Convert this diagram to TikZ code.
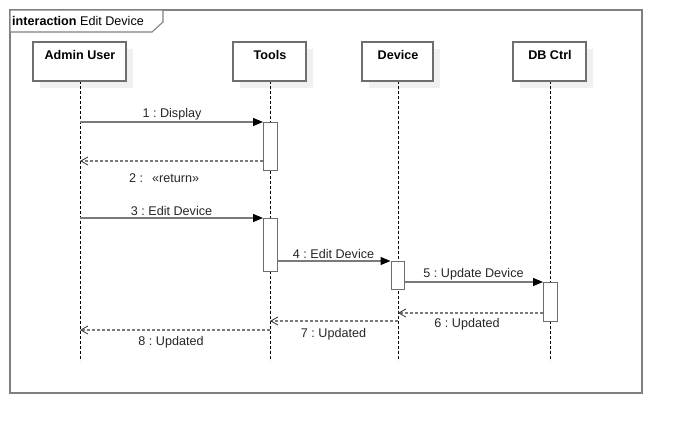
\documentclass[tikz,border=0pt]{standalone}
\usepackage{fontspec}
\setmainfont{Liberation Sans}
\usetikzlibrary{arrows.meta}
\definecolor{boxc}{HTML}{6E6E6E}
\definecolor{msgc}{HTML}{7A7A7A}
\definecolor{framec}{HTML}{808080}
\definecolor{shadowc}{HTML}{F0F0F0}
\frenchspacing
\begin{document}
\frenchspacing
\begin{tikzpicture}[x=1pt,y=-1pt,
  every node/.style={font=\fontsize{12.6}{15}\selectfont, inner sep=0pt},
  head/.style={draw=boxc, line width=1.4pt, fill=white, minimum height=39pt},
  headshadow/.style={fill=shadowc, minimum height=39pt},
  headtext/.style={font=\fontsize{12.6}{15}\selectfont\bfseries},
  act/.style={draw=boxc, line width=1.3pt, fill=white, minimum width=13.5pt, anchor=north west},
  life/.style={black, line width=0.8pt, dash pattern=on 3pt off 2pt},
  msg/.style={msgc, line width=1.3pt, -{Triangle[length=10pt,width=8pt,fill=black,color=black]}},
  ret/.style={msgc, line width=1.2pt, dash pattern=on 3pt off 2pt, -{Straight Barb[length=7pt,width=8pt,line width=0.9pt,color=black!75]}},
  lbl/.style={text=black!85}
]
\useasboundingbox (0,0) rectangle (682,434);
% frame
\draw[framec, line width=1.1pt] (10,10) rectangle (642,393);
\draw[framec, line width=1.1pt, fill=white] (10,10) -- (163,10) -- (163,22) -- (152,32) -- (10,32) -- cycle;
\node[anchor=west] (ftitle) at (12,20.5) {\textbf{interaction} Edit Device};
% head shadows
\node[headshadow, minimum width=93pt] (sh1) at (86.5,68.5) {};
\node[headshadow, minimum width=73pt] (sh2) at (276.5,68.5) {};
\node[headshadow, minimum width=71pt] (sh3) at (404.5,68.5) {};
\node[headshadow, minimum width=73pt] (sh4) at (556.5,68.5) {};
% lifelines
\coordinate (adminL) at (80,81);
\coordinate (toolsL) at (270,81);
\coordinate (deviceL) at (398,81);
\coordinate (dbL) at (550,81);
\coordinate (adminE) at (80,361);
\coordinate (toolsE) at (270,361);
\coordinate (deviceE) at (398,361);
\coordinate (dbE) at (550,361);
\draw[life] (adminL) -- (adminE);
\draw[life] (toolsL) -- (toolsE);
\draw[life] (deviceL) -- (deviceE);
\draw[life] (dbL) -- (dbE);
% heads
\node[head, minimum width=93pt] (admin) at (79.5,61.5) {};
\node[head, minimum width=73pt] (tools) at (269.5,61.5) {};
\node[head, minimum width=71pt] (device) at (397.5,61.5) {};
\node[head, minimum width=73pt] (db) at (549.5,61.5) {};
\node[headtext] (adminT) at (80,54.5) {Admin User};
\node[headtext] (toolsT) at (270,54.5) {Tools};
\node[headtext] (deviceT) at (398,54.5) {Device};
\node[headtext] (dbT) at (550,54.5) {DB Ctrl};
% activations
\node[act, minimum height=48pt] (act1) at (263,122) {};
\node[act, minimum height=53pt] (act2) at (263,218) {};
\node[act, minimum height=28pt] (act3) at (390.5,261) {};
\node[act, minimum height=39pt] (act4) at (543,282) {};
% return points
\coordinate (r2) at (263,161);
\coordinate (r6) at (543,313);
\coordinate (r7) at (398,321);
\coordinate (r8) at (270,330);
% messages
\draw[msg] (adminL |- act1.north west) -- (act1.north west);
\draw[ret] (r2) -- (adminL |- r2);
\draw[msg] (adminL |- act2.north west) -- (act2.north west);
\draw[msg] (act2.east |- act3.north west) -- (act3.north west);
\draw[msg] (act3.east |- act4.north west) -- (act4.north west);
\draw[ret] (r6) -- (deviceL |- r6);
\draw[ret] (r7) -- (toolsL |- r7);
\draw[ret] (r8) -- (adminL |- r8);
% labels
\node[lbl] (l1) at (172,114.5) {1 : Display};
\node[lbl, anchor=west] (l2) at (129,178) {2 :\hspace{9pt}«return»};
\node[lbl] (l3) at (171.5,210.5) {3 : Edit Device};
\node[lbl] (l4) at (333.5,253.5) {4 : Edit Device};
\node[lbl] (l5) at (473.5,274.5) {5 : Update Device};
\node[lbl] (l6) at (467,324.5) {6 : Updated};
\node[lbl] (l7) at (333.5,334) {7 : Updated};
\node[lbl] (l8) at (171,342.5) {8 : Updated};
\end{tikzpicture}
\end{document}
